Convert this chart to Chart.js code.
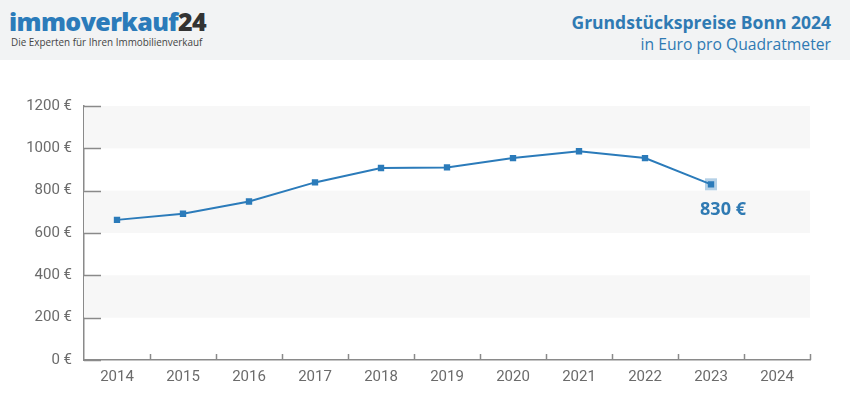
<!DOCTYPE html>
<html><head><meta charset="utf-8">
<script src="https://cdn.jsdelivr.net/npm/chart.js@4"></script>
<style>
html,body{margin:0;padding:0;background:#fff;width:850px;height:417px;overflow:hidden;font-family:'Open Sans',sans-serif}
#hdr{position:absolute;left:0;top:0;width:850px;height:60px;background:#f2f3f4}
#logo{position:absolute;left:9px;top:4px;font-family:'Open Sans';font-weight:800;font-size:25px;color:#2b7bba;letter-spacing:-0.6px;line-height:34px;white-space:nowrap}
#logo span{color:#333}
#tag{position:absolute;left:11px;top:35px;font-size:9.9px;color:#444;white-space:nowrap}
#t1{position:absolute;right:19px;top:10px;font-weight:700;font-size:17.5px;color:#2f7ab3;white-space:nowrap}
#t2{position:absolute;right:19px;top:33px;font-size:15.7px;color:#2f7ab3;white-space:nowrap}
#wrap{position:absolute;left:0;top:60px;width:850px;height:357px}
</style></head>
<body>
<div id="hdr">
  <div id="logo">immoverkauf<span>24</span></div>
  <div id="tag">Die Experten für Ihren Immobilienverkauf</div>
  <div id="t1">Grundstückspreise Bonn 2024</div>
  <div id="t2">in Euro pro Quadratmeter</div>
</div>
<div id="wrap"><canvas id="c"></canvas></div>
<script>
const years = ['2014','2015','2016','2017','2018','2019','2020','2021','2022','2023','2024'];
const prices = [662, 691, 749, 839, 907, 910, 954, 986, 954, 830, null];
const yMin = 0, yMax = 1200, yStep = 200;
const bands = [[200,400],[600,800],[1000,1200]];
const highlightIndex = 9;
const highlightLabel = '830 €';

const BLUE = '#2b7bba';
const AXIS = '#8a8a8a';

const decor = {
  id: 'decor',
  beforeDatasetsDraw(chart) {
    const {ctx, chartArea: a, scales: {x, y}} = chart;
    ctx.save();
    ctx.fillStyle = '#f7f7f7';
    bands.forEach(([lo, hi]) => {
      const t = y.getPixelForValue(hi), b = y.getPixelForValue(lo);
      ctx.fillRect(a.left, t, a.right - a.left, b - t);
    });
    ctx.strokeStyle = AXIS; ctx.lineWidth = 1.5;
    y.ticks.forEach(t => {
      const py = Math.round(y.getPixelForValue(t.value)) + 0.5;
      ctx.beginPath(); ctx.moveTo(a.left, py); ctx.lineTo(a.left + 17, py); ctx.stroke();
    });
    const step = x.getPixelForValue(1) - x.getPixelForValue(0);
    for (let i = 1; i <= years.length; i++) {
      const px = Math.round(x.getPixelForValue(i) - step / 2) + 0.5;
      ctx.beginPath(); ctx.moveTo(px, a.bottom); ctx.lineTo(px, a.bottom - 6); ctx.stroke();
    }
    const hx = x.getPixelForValue(highlightIndex), hy = y.getPixelForValue(prices[highlightIndex]);
    ctx.fillStyle = 'rgba(43,123,186,0.35)';
    ctx.fillRect(hx - 6, hy - 6, 12, 12);
    ctx.restore();
  },
  afterDatasetsDraw(chart) {
    const {ctx, scales: {x, y}} = chart;
    const hx = x.getPixelForValue(highlightIndex), hy = y.getPixelForValue(prices[highlightIndex]);
    ctx.save();
    ctx.font = 'bold 18px "Open Sans"';
    ctx.fillStyle = '#2f7ab3';
    ctx.textAlign = 'center'; ctx.textBaseline = 'middle';
    ctx.fillText(highlightLabel, hx + 12, hy + 26);
    ctx.restore();
  }
};

new Chart(document.getElementById('c'), {
  type: 'line',
  data: {
    labels: years,
    datasets: [{
      data: prices,
      borderColor: BLUE,
      backgroundColor: BLUE,
      borderWidth: 2,
      pointStyle: 'rect',
      pointRadius: 4.5,
      pointBorderWidth: 0,
      pointBackgroundColor: BLUE,
      tension: 0,
      spanGaps: false
    }]
  },
  options: {
    responsive: true,
    maintainAspectRatio: false,
    animation: false,
    events: [],
    layout: {padding: {top: 46, right: 40, left: 0, bottom: 0}},
    plugins: {legend: {display: false}, tooltip: {enabled: false}},
    scales: {
      x: {
        offset: true,
        grid: {display: false, drawTicks: false},
        border: {display: true, color: AXIS, width: 1.5},
        ticks: {color: '#6b6b6b', font: {family: 'Roboto', size: 15}, padding: 8},
        afterFit(s) { s.height = 57; }
      },
      y: {
        min: yMin, max: yMax,
        grid: {display: false, drawTicks: false},
        border: {display: true, color: AXIS, width: 1.5},
        ticks: {stepSize: yStep, color: '#6b6b6b', font: {family: 'Roboto', size: 15}, padding: 12,
          callback: v => v + ' €'},
        afterFit(s) { s.width = 84; }
      }
    }
  },
  plugins: [decor]
});
</script>
</body></html>
